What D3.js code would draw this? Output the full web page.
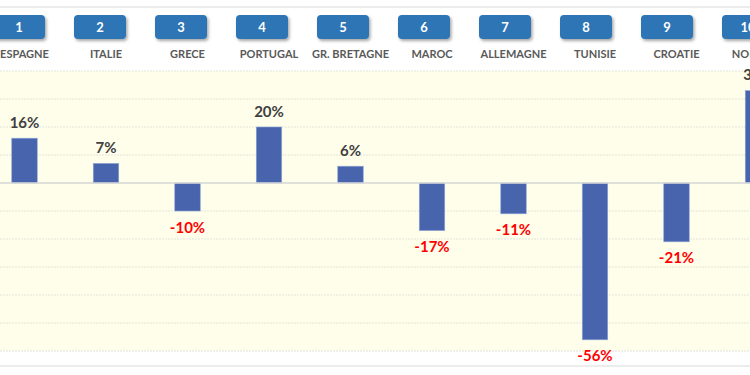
<!DOCTYPE html>
<html>
<head>
<meta charset="utf-8">
<script src="https://cdn.jsdelivr.net/npm/d3@7"></script>
<style>
  html, body { margin: 0; padding: 0; background: #ffffff; }
  svg { display: block; }
</style>
</head>
<body>
<svg id="chart" width="750" height="375"></svg>
<script>
const categories = ["ESPAGNE", "ITALIE", "GRECE", "PORTUGAL", "GR. BRETAGNE", "MAROC", "ALLEMAGNE", "TUNISIE", "CROATIE", "NORVEGE"];
const ranks = ["1", "2", "3", "4", "5", "6", "7", "8", "9", "10"];
const values = [16, 7, -10, 20, 6, -17, -11, -56, -21, 33];
const yTicks = [40, 30, 20, 10, 0, -10, -20, -30, -40, -50, -60];

const svg = d3.select("#chart");
const W = 750, H = 375;

const defs = svg.append("defs");
const f = defs.append("filter").attr("id", "shadow").attr("x", "-20%").attr("y", "-30%").attr("width", "150%").attr("height", "180%");
f.append("feDropShadow").attr("dx", 1.5).attr("dy", 2).attr("stdDeviation", 1.5).attr("flood-color", "#000").attr("flood-opacity", 0.35);

// outer frame lines
svg.append("line").attr("x1", 0).attr("x2", W).attr("y1", 7).attr("y2", 7).attr("stroke", "#d9d9d9").attr("stroke-width", 1);
svg.append("line").attr("x1", 0).attr("x2", W).attr("y1", 366).attr("y2", 366).attr("stroke", "#d9d9d9").attr("stroke-width", 1);

const y = d3.scaleLinear().domain([-60, 40]).range([351, 71]);
const x = d3.scalePoint().domain(categories).range([24.5, 758]);
const xb = d3.scalePoint().domain(ranks).range([19, 748]);
const barW = 25.5;

// plot background
svg.append("rect").attr("x", 0).attr("y", y(40)).attr("width", W).attr("height", y(-60) - y(40)).attr("fill", "#fffeeb");

// gridlines
svg.append("g").selectAll("line").data(yTicks.filter(d => d !== 0)).join("line")
  .attr("x1", 0).attr("x2", W)
  .attr("y1", d => y(d)).attr("y2", d => y(d))
  .attr("stroke", "#e2e2dc").attr("stroke-width", 1).attr("stroke-dasharray", "2,1");

// bars
svg.append("g").selectAll("rect").data(values).join("rect")
  .attr("x", (d, i) => x(categories[i]) - barW / 2)
  .attr("y", d => y(Math.max(0, d)))
  .attr("width", barW)
  .attr("height", d => Math.abs(y(d) - y(0)))
  .attr("fill", "#4864ac")
  .attr("stroke", "#8ea6d6").attr("stroke-width", 0.6);

// zero line
svg.append("line").attr("x1", 0).attr("x2", W).attr("y1", y(0)).attr("y2", y(0))
  .attr("stroke", "#d6d6d6").attr("stroke-width", 1.5);

// value labels
svg.append("g").selectAll("text").data(values).join("text")
  .attr("x", (d, i) => x(categories[i]))
  .attr("y", d => d >= 0 ? y(d) - 10.5 : y(d) + 21.5)
  .attr("text-anchor", "middle")
  .attr("font-family", "Lato, 'Open Sans', sans-serif")
  .attr("font-weight", "bold")
  .attr("font-size", 15)
  .attr("fill", d => d >= 0 ? "#404040" : "#ff0000")
  .text(d => d + "%");

// category labels
svg.append("g").selectAll("text").data(categories).join("text")
  .attr("x", d => x(d))
  .attr("y", 58)
  .attr("text-anchor", "middle")
  .attr("font-family", "Lato, 'Open Sans', sans-serif")
  .attr("font-weight", "bold")
  .attr("font-size", 11)
  .attr("fill", "#595959")
  .text(d => d);

// rank buttons
const btn = svg.append("g").selectAll("g").data(ranks).join("g")
  .attr("transform", d => `translate(${xb(d)},27)`);
btn.append("rect")
  .attr("x", -26).attr("y", -12).attr("width", 52).attr("height", 24).attr("rx", 4)
  .attr("fill", "#2e74b5").attr("filter", "url(#shadow)");
btn.append("text")
  .attr("y", 4.5).attr("text-anchor", "middle")
  .attr("font-family", "Lato, 'Open Sans', sans-serif")
  .attr("font-weight", "bold").attr("font-size", 13)
  .attr("fill", "#ffffff")
  .text(d => d);
</script>
</body>
</html>
